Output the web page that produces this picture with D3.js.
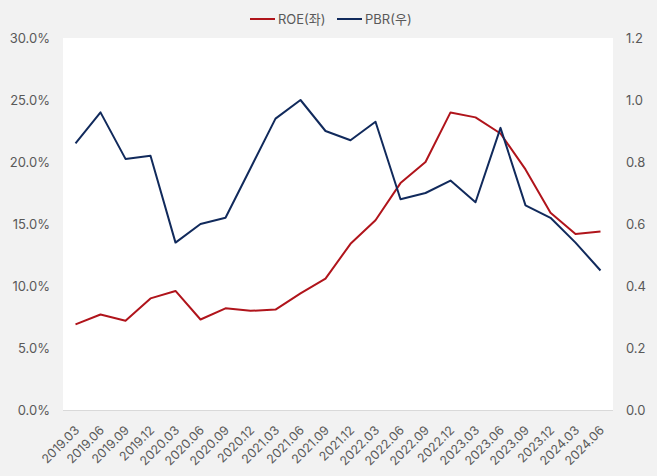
<!DOCTYPE html>
<html><head><meta charset="utf-8">
<script src="https://cdn.jsdelivr.net/npm/d3@7"></script>
<style>
html,body{margin:0;padding:0;background:#F2F2F2;}
svg{display:block;font-family:Inter,"Noto Sans CJK KR",sans-serif;}
</style></head>
<body><svg id="c" width="657" height="476"></svg>
<script>
const categories = ["2019.03","2019.06","2019.09","2019.12","2020.03","2020.06","2020.09","2020.12","2021.03","2021.06","2021.09","2021.12","2022.03","2022.06","2022.09","2022.12","2023.03","2023.06","2023.09","2023.12","2024.03","2024.06"];
const roe = [6.9,7.7,7.2,9.0,9.6,7.3,8.2,8.0,8.1,9.4,10.6,13.4,15.3,18.3,20.0,24.0,23.6,22.3,19.4,15.9,14.2,14.4];
const pbr = [0.86,0.96,0.81,0.82,0.54,0.60,0.62,0.78,0.94,1.00,0.90,0.87,0.93,0.68,0.70,0.74,0.67,0.91,0.66,0.62,0.54,0.45];
const leftTicks = [0,5,10,15,20,25,30];
const rightTicks = [0,0.2,0.4,0.6,0.8,1.0,1.2];
const seriesNames = ["ROE(좌)","PBR(우)"];
const colors = ["#B0141B","#112A5C"];

const svg = d3.select("#c");
const L = 63, R = 613, T = 38, B = 410;
svg.append("rect").attr("x",L).attr("y",T).attr("width",R-L).attr("height",B-T).attr("fill","#FFFFFF");

const x = d3.scalePoint().domain(categories).range([L,R]).padding(0.5);
const yL = d3.scaleLinear().domain([0,30]).range([B,T]);
const yR = d3.scaleLinear().domain([0,1.2]).range([B,T]);

const txt = "#595959";
svg.append("line").attr("x1",L).attr("x2",R).attr("y1",B+0.5).attr("y2",B+0.5).attr("stroke","#D9D9D9").attr("stroke-width",1);

const gl = svg.append("g").attr("transform",`translate(${L},0)`)
  .call(d3.axisLeft(yL).tickValues(leftTicks).tickFormat(d=>d.toFixed(1)+"%").tickSize(0).tickPadding(13));
gl.select(".domain").remove();
gl.selectAll("text").attr("fill",txt).style("font-size","13px").style("font-family","Inter,'Noto Sans CJK KR',sans-serif");

const gr = svg.append("g").attr("transform",`translate(${R},0)`)
  .call(d3.axisRight(yR).tickValues(rightTicks).tickFormat(d3.format(".1f")).tickSize(0).tickPadding(13));
gr.select(".domain").remove();
gr.selectAll("text").attr("fill",txt).style("font-size","13px").style("font-family","Inter,'Noto Sans CJK KR',sans-serif");

const gb = svg.append("g").attr("transform",`translate(0,${B})`)
  .call(d3.axisBottom(x).tickSize(0).tickPadding(0));
gb.select(".domain").remove();
gb.selectAll("text").attr("fill",txt).style("font-size","12.5px").style("font-family","Inter,'Noto Sans CJK KR',sans-serif")
  .attr("text-anchor","end").attr("dy","0.35em")
  .attr("transform","translate(1,18) rotate(-45)");

const lineL = d3.line().x((d,i)=>x(categories[i])).y(d=>yL(d));
const lineR = d3.line().x((d,i)=>x(categories[i])).y(d=>yR(d));
svg.append("path").datum(roe).attr("d",lineL).attr("fill","none").attr("stroke",colors[0]).attr("stroke-width",2).attr("stroke-linejoin","round");
svg.append("path").datum(pbr).attr("d",lineR).attr("fill","none").attr("stroke",colors[1]).attr("stroke-width",2).attr("stroke-linejoin","round");

const lg = svg.append("g");
const lx = [250, 337];
seriesNames.forEach((n,i)=>{
  lg.append("line").attr("x1",lx[i]).attr("x2",lx[i]+25).attr("y1",19).attr("y2",19).attr("stroke",colors[i]).attr("stroke-width",2);
  lg.append("text").attr("x",lx[i]+28).attr("y",19).attr("dy","0.35em").attr("fill",txt).style("font-size","13px").text(n);
});
</script></body></html>
